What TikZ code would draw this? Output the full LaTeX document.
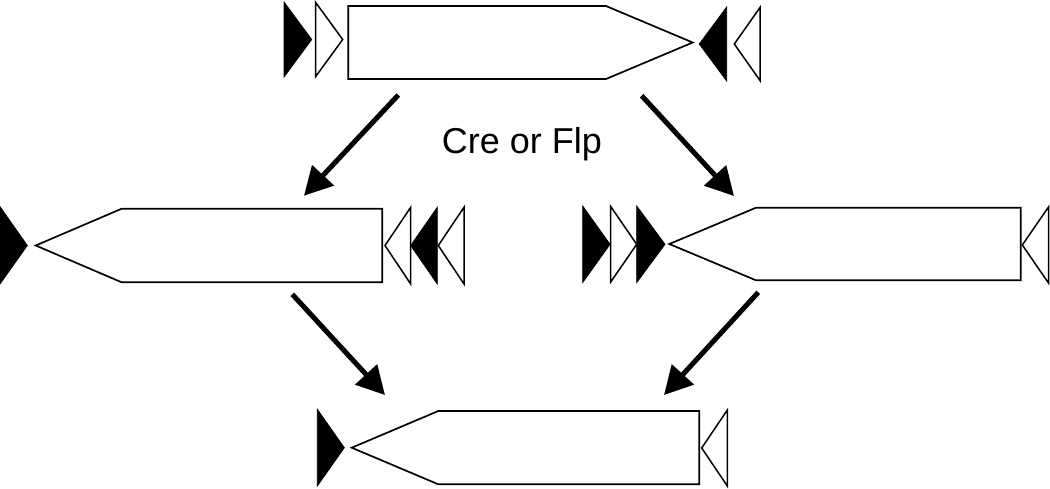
\documentclass[tikz,border=0pt]{standalone}
\usepackage{fontspec}
\setmainfont{Liberation Sans}
\usetikzlibrary{arrows.meta}
\tikzset{
  genebox/.style={draw=black, line width=1.7pt, fill=white, line join=miter},
  solidsite/.style={draw=black, fill=black, line width=0.8pt, line join=miter},
  opensite/.style={draw=black, fill=white, line width=1.5pt, line join=miter},
  react/.style={line width=5pt, -{Triangle[length=28pt,width=29pt]}},
  lbl/.style={font=\fontsize{36}{42}\selectfont, inner sep=0pt, anchor=base}
}
\begin{document}
\begin{tikzpicture}[x=1pt,y=-1pt]
\useasboundingbox (0,0) rectangle (1050,488);
% ---- top construct
\path[solidsite] (284,2) -- (311.7,39.5) -- (284,77) -- cycle;
\path[opensite] (315.7,2.5) -- (342.7,39.5) -- (315.7,76.5) -- cycle;
\path[genebox] (348.3,6) -- (606,6) -- (692.7,42.5) -- (606,79) -- (348.3,79) -- cycle;
\path[solidsite] (726.7,7) -- (699.3,44) -- (726.7,81) -- cycle;
\path[opensite] (760,7.5) -- (734.3,44) -- (760,80.5) -- cycle;
% ---- middle left construct
\path[solidsite] (0,206.7) -- (27.3,245.5) -- (0,284) -- cycle;
\path[genebox] (35.7,245.5) -- (121.7,208.7) -- (382.3,208.7) -- (382.3,282.3) -- (121.7,282.3) -- cycle;
\path[opensite] (410.7,207.3) -- (385,245.5) -- (410.7,284) -- cycle;
\path[solidsite] (437.3,207.3) -- (410.7,245.5) -- (437.3,284) -- cycle;
\path[opensite] (464,207.3) -- (438.3,245.5) -- (464,284) -- cycle;
% ---- middle right construct
\path[solidsite] (582.7,206) -- (610,244.3) -- (582.7,282.5) -- cycle;
\path[opensite] (610.7,206.5) -- (636.7,244.3) -- (610.7,282) -- cycle;
\path[solidsite] (636.7,206) -- (665,244.3) -- (636.7,282.5) -- cycle;
\path[genebox] (669.3,244) -- (756,207.7) -- (1020.7,207.7) -- (1020.7,280.3) -- (756,280.3) -- cycle;
\path[opensite] (1048.5,207) -- (1022.3,245) -- (1048.5,283) -- cycle;
% ---- bottom construct
\path[solidsite] (317.3,409.3) -- (344.3,447.7) -- (317.3,486) -- cycle;
\path[genebox] (351.7,447.7) -- (438.3,411) -- (699.3,411) -- (699.3,484.3) -- (438.3,484.3) -- cycle;
\path[opensite] (727.3,410) -- (701.7,448) -- (727.3,486) -- cycle;
% ---- label
\node[lbl] (rec) at (522,153.5) {Cre or Flp};
% ---- reaction arrows
\coordinate (a1s) at (398.3,95);   \coordinate (a1e) at (304,195.7);
\coordinate (a2s) at (641.7,95.7); \coordinate (a2e) at (734,196);
\coordinate (a3s) at (292.3,294.3);\coordinate (a3e) at (385,395);
\coordinate (a4s) at (758.3,292.3);\coordinate (a4e) at (664,395);
\draw[react] (a1s) -- (a1e);
\draw[react] (a2s) -- (a2e);
\draw[react] (a3s) -- (a3e);
\draw[react] (a4s) -- (a4e);
\end{tikzpicture}
\end{document}
